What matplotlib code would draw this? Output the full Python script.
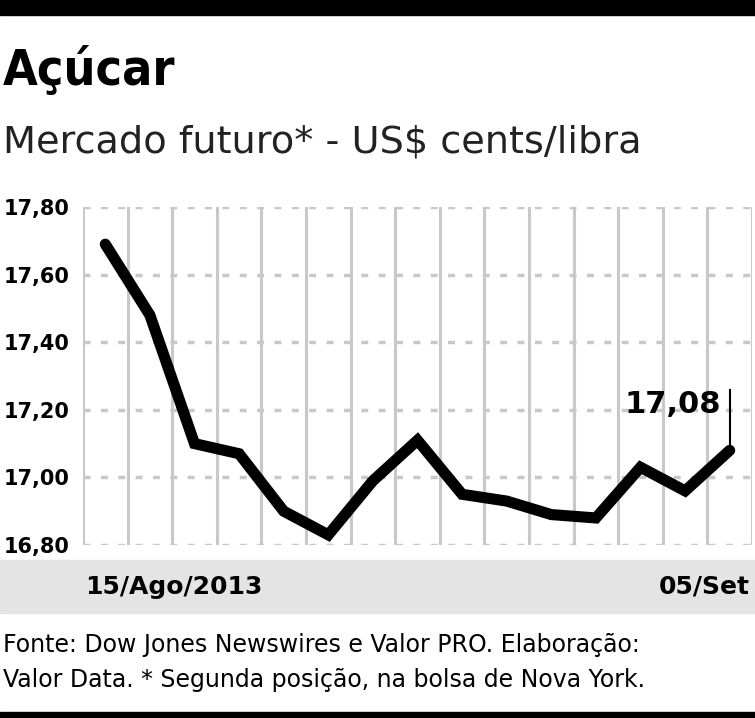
import matplotlib.pyplot as plt
from matplotlib.patches import Rectangle

dates = ['15/Ago/2013', '16/Ago', '19/Ago', '20/Ago', '21/Ago', '22/Ago', '23/Ago',
         '26/Ago', '27/Ago', '28/Ago', '29/Ago', '30/Ago', '03/Set', '04/Set', '05/Set']
prices = [17.69, 17.48, 17.10, 17.07, 16.90, 16.83, 16.99, 17.11,
          16.95, 16.93, 16.89, 16.88, 17.03, 16.96, 17.08]
yticks = [16.80, 17.00, 17.20, 17.40, 17.60, 17.80]

W, H = 755, 718
fig = plt.figure(figsize=(W / 100, H / 100), dpi=100)

def box(x0, y0, x1, y1):
    # pixel box (top-left origin) -> figure fraction rect
    return [x0 / W, 1 - y1 / H, (x1 - x0) / W, (y1 - y0) / H]

# black bars top and bottom, gray date band
fig.patches.append(Rectangle((0, 1 - 15 / H), 1, 15 / H, transform=fig.transFigure, color='black'))
fig.patches.append(Rectangle((0, 0), 1, 6 / H, transform=fig.transFigure, color='black'))
fig.patches.append(Rectangle((0, 1 - 613 / H), 1, 53 / H, transform=fig.transFigure, color='#e4e4e4'))

fig.text(3 / W, 1 - 70 / H, 'Açúcar', fontsize=36, fontweight='bold', va='center',
         family='DejaVu Sans', stretch='condensed')
fig.text(3 / W, 1 - 143 / H, 'Mercado futuro* - US$ cents/libra', fontsize=27.5, va='center',
         family='DejaVu Sans', color='#222222')

ax = fig.add_axes(box(83, 207, 752, 545))
n = len(prices)
ax.set_xlim(-0.5, n - 0.5)
ax.set_ylim(16.80, 17.80)
for k in range(n + 1):
    ax.axvline(k - 0.5, color='#c8c8c8', lw=2.2, zorder=1)
for v in yticks:
    ax.axhline(v, color='#c8c8c8', lw=2.5, ls=(0, (2, 3)), zorder=1)
ax.plot(range(n), prices, color='black', lw=8, solid_capstyle='round',
        solid_joinstyle='miter', zorder=3)
ax.plot([n - 1, n - 1], [prices[-1], 17.26], color='black', lw=1.5, zorder=3)
ax.text(n - 1.2, 17.26, f'{prices[-1]:.2f}'.replace('.', ','), fontsize=22,
        fontweight='bold', ha='right', va='top', zorder=4)
for s in ax.spines.values():
    s.set_visible(False)
ax.set_xticks([])
ax.set_yticks(yticks)
ax.set_yticklabels([f'{v:.2f}'.replace('.', ',') for v in yticks],
                   fontsize=15, fontweight='bold')
ax.tick_params(axis='y', length=0, pad=10)

fig.text(85 / W, 1 - 587 / H, dates[0], fontsize=18, fontweight='bold', va='center')
fig.text(750 / W, 1 - 587 / H, dates[-1], fontsize=18, fontweight='bold', va='center', ha='right')

fig.text(3 / W, 1 - 645 / H, 'Fonte: Dow Jones Newswires e Valor PRO. Elaboração:',
         fontsize=17, va='center', family='DejaVu Sans')
fig.text(3 / W, 1 - 680 / H, 'Valor Data. * Segunda posição, na bolsa de Nova York.',
         fontsize=17, va='center', family='DejaVu Sans')

fig.savefig('out.png', dpi=100)
